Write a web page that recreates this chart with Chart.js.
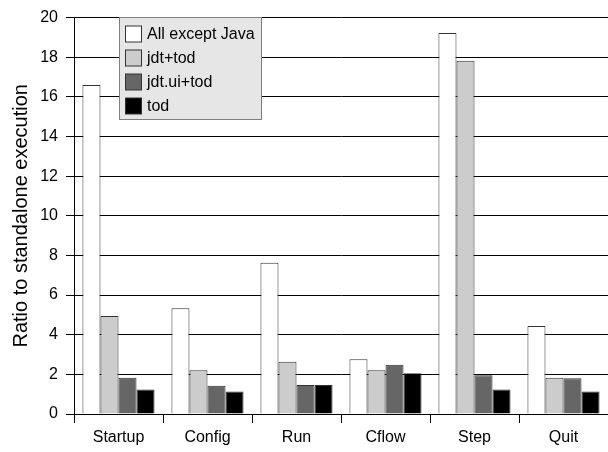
<!DOCTYPE html>
<html>
<head>
<meta charset="utf-8">
<script src="https://cdn.jsdelivr.net/npm/chart.js@4/dist/chart.umd.min.js"></script>
<style>
  html, body { margin: 0; padding: 0; background: #fff; }
  #wrap { width: 608px; height: 452px; }
</style>
</head>
<body>
<div id="wrap"><canvas id="ratioChart" width="608" height="452"></canvas></div>
<script>
// data
const phases = ['Startup', 'Config', 'Run', 'Cflow', 'Step', 'Quit'];
const allExceptJava = [16.6, 5.34, 7.63, 2.76, 19.22, 4.44];
const jdtTod = [4.95, 2.21, 2.63, 2.21, 17.82, 1.83];
const jdtUiTod = [1.83, 1.43, 1.46, 2.49, 1.96, 1.80];
const todOnly = [1.23, 1.13, 1.46, 2.06, 1.23, 1.13];
const yTicks = [0, 2, 4, 6, 8, 10, 12, 14, 16, 18, 20];

Chart.defaults.font.family = '"Liberation Sans", Arial, sans-serif';
Chart.defaults.font.size = 16;
Chart.defaults.color = '#000';

// legend box drawn inside the plot, top left
const boxLegend = {
  id: 'boxLegend',
  afterDraw(chart) {
    const ctx = chart.ctx;
    const x = 119.5, y = 17.5, w = 142, h = 102;
    ctx.save();
    ctx.fillStyle = '#e6e6e6';
    ctx.strokeStyle = '#7f7f7f';
    ctx.lineWidth = 1;
    ctx.fillRect(x, y, w, h);
    ctx.strokeRect(x, y, w, h);
    ctx.font = '16px "Liberation Sans", Arial, sans-serif';
    ctx.textBaseline = 'middle';
    chart.data.datasets.forEach((ds, i) => {
      const cy = 34 + i * 24;
      ctx.fillStyle = ds.backgroundColor;
      ctx.fillRect(125.5, cy - 8, 16, 16);
      ctx.strokeStyle = '#333';
      ctx.strokeRect(125.5, cy - 8, 16, 16);
      ctx.fillStyle = '#000';
      ctx.fillText(ds.label, 147, cy + 1);
    });
    ctx.restore();
  }
};

const ctxRatio = document.getElementById('ratioChart').getContext('2d');
const ratioChart = new Chart(ctxRatio, {
  type: 'bar',
  data: {
    labels: phases,
    datasets: [
      { label: 'All except Java', data: allExceptJava, backgroundColor: '#ffffff' },
      { label: 'jdt+tod', data: jdtTod, backgroundColor: '#cccccc' },
      { label: 'jdt.ui+tod', data: jdtUiTod, backgroundColor: '#666666' },
      { label: 'tod', data: todOnly, backgroundColor: '#000000' }
    ].map(d => Object.assign(d, {
      borderColor: '#333333',
      borderWidth: 1,
      categoryPercentage: 0.81,
      barPercentage: 1.0
    }))
  },
  options: {
    responsive: false,
    animation: false,
    layout: { padding: { top: 13, right: 0, bottom: 0, left: 0 } },
    scales: {
      x: {
        grid: { drawOnChartArea: false, drawTicks: true, tickLength: 9, color: '#000', offset: true },
        border: { color: '#000' },
        ticks: { padding: 5, maxRotation: 0 },
        afterFit(axis) { axis.height = 38; }
      },
      y: {
        min: 0,
        max: 20,
        afterBuildTicks(axis) { axis.ticks = yTicks.map(v => ({ value: v })); },
        grid: { color: '#000', tickLength: 8 },
        border: { color: '#000' },
        ticks: { padding: 8 },
        title: {
          display: true,
          text: 'Ratio to standalone execution',
          font: { size: 20 },
          padding: { top: 9, bottom: 0 }
        },
        afterFit(axis) { axis.width = 74; }
      }
    },
    plugins: {
      legend: { display: false },
      tooltip: { enabled: false }
    }
  },
  plugins: [boxLegend]
});
</script>
</body>
</html>
